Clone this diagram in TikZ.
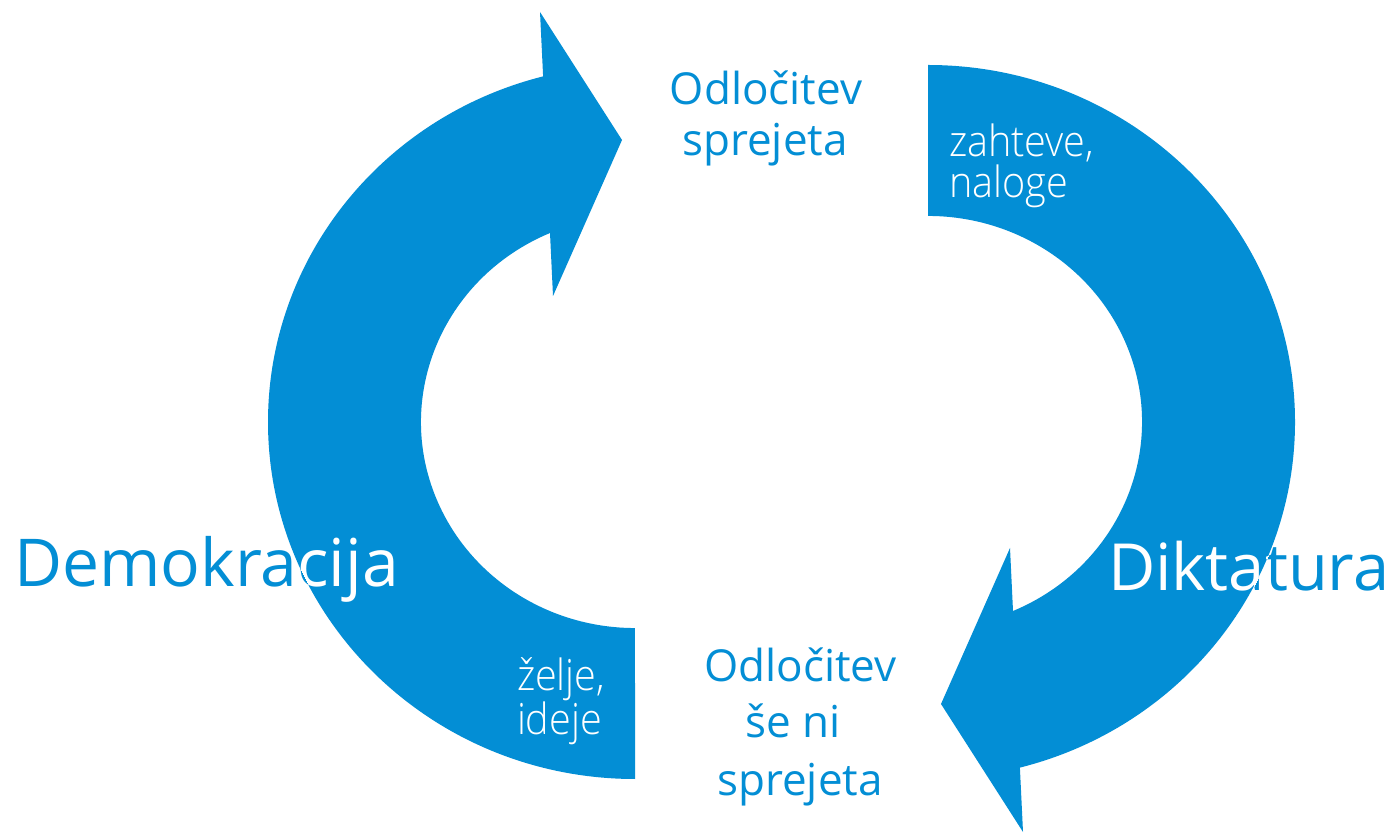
\documentclass[tikz,border=0pt]{standalone}
\usepackage{fontspec}
\setmainfont{Open Sans}
\IfFontExistsTF{Open Sans Light}
  {\newfontfamily\lightfont[FakeStretch=0.92]{Open Sans Light}}
  {\newfontfamily\lightfont[FakeStretch=0.92]{Open Sans}}
\definecolor{myblue}{RGB}{3,142,213}
\def\leftarrowpath{(635,56) arc[start angle=270, end angle=104.5, x radius=367, y radius=357] -- (540,823) -- (622,695) -- (553,539) -- (550,602) arc[start angle=113.4, end angle=270, x radius=214, y radius=206] -- cycle}
\def\rightarrowpath{(928,770) arc[start angle=90, end angle=-75.5, x radius=367, y radius=357] -- (1023,3) -- (941,131) -- (1010,287) -- (1013,224) arc[start angle=-66.6, end angle=90, x radius=214, y radius=206] -- cycle}
\tikzset{
  midtext/.style={inner sep=0pt, outer sep=0pt, text=myblue, font=\fontsize{44}{50}\selectfont},
  whitetext/.style={inner sep=0pt, outer sep=0pt, text=white, font=\lightfont\fontsize{43}{48}\selectfont},
  bigtext/.style={inner sep=0pt, outer sep=0pt, font=\fontsize{66}{72}\selectfont},
  bigtextb/.style={inner sep=0pt, outer sep=0pt, font=\fontsize{65}{72}\selectfont}
}
\begin{document}
\begin{tikzpicture}[x=1pt,y=1pt]
\useasboundingbox (0,0) rectangle (1391,835);
\fill[white] (0,0) rectangle (1391,835);
\fill[myblue] \leftarrowpath;
\fill[myblue] \rightarrowpath;
% top decision text
\node[midtext, anchor=base] (t1) at (766,730) {Odločitev};
\node[midtext, anchor=base] (t2) at (765,679) {sprejeta};
% bottom decision text
\node[midtext, anchor=base] (b1) at (800.5,153) {Odločitev};
\node[midtext, anchor=base] (b2) at (793.5,97) {še ni};
\node[midtext, anchor=base] (b3) at (800,40) {sprejeta};
% white labels
\node[whitetext, anchor=base west] (z1) at (949,678) {zahteve,};
\node[whitetext, anchor=base west] (z2) at (949,637) {naloge};
\node[whitetext, anchor=base west] (w1) at (517,144) {želje,};
\node[whitetext, anchor=base west] (w2) at (517,100) {ideje};
% big labels
\node[bigtext, text=myblue, anchor=base west] (demo) at (14,248) {Demokracija};
\begin{scope}
\clip \leftarrowpath;
\node[bigtext, text=white, anchor=base west] (demow) at (14,248) {Demokracija};
\end{scope}
\node[bigtextb, text=myblue, anchor=base west] (dikt) at (1108,244) {Diktatura};
\begin{scope}
\clip \rightarrowpath;
\node[bigtextb, text=white, anchor=base west] (diktw) at (1108,244) {Diktatura};
\end{scope}
\end{tikzpicture}
\end{document}
